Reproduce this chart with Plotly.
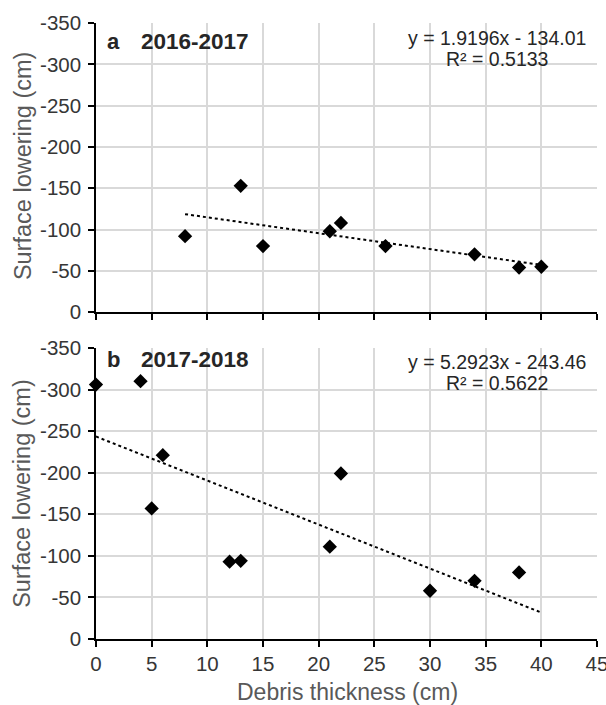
import plotly.graph_objects as go
from plotly.subplots import make_subplots

# Panel a: 2016-2017
debris_a = [8, 13, 15, 21, 22, 26, 34, 38, 40]
lowering_a = [-92, -153, -80, -98, -108, -80, -70, -54, -55]
slope_a, intercept_a = 1.9196, -134.01
trend_x_a = [8, 40]

# Panel b: 2017-2018
debris_b = [0, 4, 5, 6, 12, 13, 21, 22, 30, 34, 38]
lowering_b = [-306, -310, -157, -221, -93, -94, -111, -199, -58, -70, -80]
slope_b, intercept_b = 5.2923, -243.46
trend_x_b = [0, 40]

x_ticks = [0, 5, 10, 15, 20, 25, 30, 35, 40, 45]
x_tick_labels = ["0", "5", "10", "15", "20", "25", "30", "35", "40", "45"]
y_ticks = [0, -50, -100, -150, -200, -250, -300, -350]
y_tick_labels = ["0", "-50", "-100", "-150", "-200", "-250", "-300", "-350"]

FONT = "Liberation Sans, Arial, sans-serif"
TICK_C = "#363636"
TITLE_C = "#595959"
TEXT_C = "#262626"

fig = make_subplots(rows=2, cols=1, vertical_spacing=0.0)

def add_panel(row, xs, ys, tx, slope, intercept):
    fig.add_trace(go.Scatter(
        x=tx, y=[slope * v + intercept for v in tx], mode="lines",
        line=dict(color="black", width=2, dash="dot"),
        showlegend=False), row=row, col=1)
    fig.add_trace(go.Scatter(
        x=xs, y=ys, mode="markers",
        marker=dict(symbol="diamond", size=11, color="black"),
        showlegend=False, cliponaxis=False), row=row, col=1)

add_panel(1, debris_a, lowering_a, trend_x_a, slope_a, intercept_a)
add_panel(2, debris_b, lowering_b, trend_x_b, slope_b, intercept_b)

axis_common = dict(
    showline=True, linecolor="black", linewidth=1.5,
    ticks="outside", tickcolor="black", ticklen=6, tickwidth=1.5,
    showgrid=True, gridcolor="#d9d9d9", gridwidth=1.5,
    zeroline=False, automargin=False, ticklabeloverflow="allow",
    tickfont=dict(family=FONT, size=20.5, color=TICK_C),
)

fig.update_xaxes(range=[0, 45], tickvals=x_ticks, ticktext=x_tick_labels, **axis_common)
fig.update_yaxes(range=[0, -350], tickvals=y_ticks, ticktext=y_tick_labels,
                 ticklabelstandoff=3, **axis_common)
fig.update_xaxes(showticklabels=False, row=1, col=1)

fig.update_layout(
    width=606, height=705,
    margin=dict(l=96, r=9, t=23, b=66),
    plot_bgcolor="white", paper_bgcolor="white",
    yaxis=dict(domain=[0.5305, 1.0]),
    yaxis2=dict(domain=[0.0, 0.4725]),
    font=dict(family=FONT),
)

# axis titles
for ymid in ((1.0 + 0.5305) / 2 + 0.003, 0.4725 / 2):
    fig.add_annotation(x=-0.147, y=ymid, xref="paper", yref="paper",
                       text="Surface lowering (cm)", textangle=-90, showarrow=False,
                       xanchor="center", yanchor="middle",
                       font=dict(family=FONT, size=23.5, color=TITLE_C))
fig.add_annotation(x=0.501, y=-0.086, xref="paper", yref="paper",
                   text="Debris thickness (cm)", showarrow=False,
                   xanchor="center", yanchor="middle",
                   font=dict(family=FONT, size=23, color=TITLE_C))

def add_labels(xref, yref, letter, period, eq, r2, ytitle, yeq, yr2):
    fig.add_annotation(x=0.018, y=ytitle, xref=xref + " domain", yref=yref + " domain",
                       text=f"<b>{letter}</b>", showarrow=False, xanchor="left", yanchor="top",
                       font=dict(family=FONT, size=22, color=TEXT_C))
    fig.add_annotation(x=0.086, y=ytitle, xref=xref + " domain", yref=yref + " domain",
                       text=f"<b>{period}</b>", showarrow=False, xanchor="left", yanchor="top",
                       font=dict(family=FONT, size=22.5, color=TEXT_C))
    fig.add_annotation(x=0.801, y=yeq, xref=xref + " domain", yref=yref + " domain",
                       text=eq, showarrow=False, xanchor="center", yanchor="top",
                       font=dict(family=FONT, size=19.5, color=TEXT_C))
    fig.add_annotation(x=0.801, y=yr2, xref=xref + " domain", yref=yref + " domain",
                       text=r2, showarrow=False, xanchor="center", yanchor="top",
                       font=dict(family=FONT, size=19.5, color=TEXT_C))

add_labels("x", "y", "a", "2016-2017", "y = 1.9196x - 134.01", "R² = 0.5133",
           0.987, 0.992, 0.919)
add_labels("x2", "y2", "b", "2017-2018", "y = 5.2923x - 243.46", "R² = 0.5622",
           1.011, 0.995, 0.923)

fig.write_html("out.html", config={"displayModeBar": False},
               post_script="document.body.style.margin='0';document.body.style.padding='0';")
